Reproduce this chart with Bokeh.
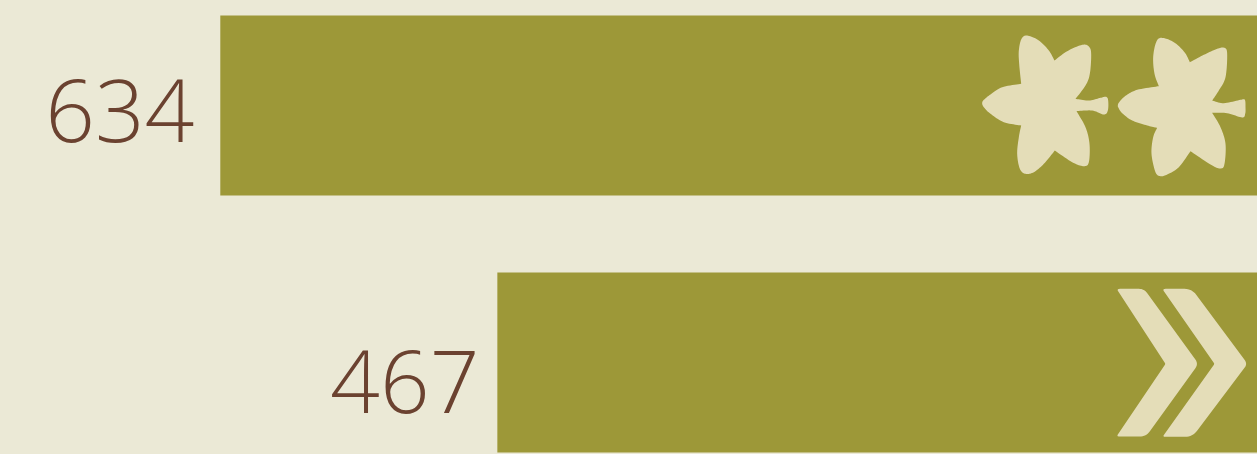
from bokeh.plotting import figure
from bokeh.models import Range1d, ColumnDataSource
from bokeh.core.properties import value
from bokeh.embed import file_html
from bokeh.resources import INLINE

# ---- data
row_index = [0, 1]
values = [634, 467]
labels = ["634", "467"]

BG = "#ebe9d6"
BAR = "#9d9838"
ICON = "#e4ddb8"
TEXT = "#6b4230"

# ---- scale: pixels per unit, value-zero pixel, row pitch (page pixels)
K = 1.659
X_ZERO = 1271.6
PITCH = 257.0
Y_ROW0 = 105.0
W, H = 1257, 454


def xv(px):
    return (X_ZERO - px) / K


def yv(py):
    return (py - Y_ROW0) / PITCH


# Icon outlines: segments between sharp corners, in 3x crop pixels.
FLOWER_A = [
    [(182, 190), (176, 130), (175, 90), (183, 55), (200, 45), (235, 60), (265, 90), (282, 120)],
    [(282, 120), (320, 92), (365, 73), (385, 78), (392, 100), (388, 160), (375, 195), (345, 235)],
    [(345, 235), (385, 240), (420, 232), (437, 229), (443, 240), (442, 270), (430, 282), (395, 270), (348, 272)],
    [(348, 272), (375, 320), (387, 370), (385, 425), (370, 437), (335, 425), (283, 390)],
    [(283, 390), (250, 430), (220, 455), (195, 460), (178, 445), (170, 400), (175, 350), (182, 315)],
    [(182, 315), (130, 305), (90, 280), (70, 260), (65, 248), (70, 238), (90, 222), (125, 200), (182, 190)],
]
FLOWER_B = [
    [(595, 197), (582, 160), (578, 110), (587, 65), (603, 52), (640, 65), (672, 95), (688, 125)],
    [(688, 125), (730, 103), (770, 85), (792, 82), (800, 100), (795, 170), (775, 210), (755, 240)],
    [(755, 240), (790, 248), (840, 238), (853, 238), (855, 260), (854, 280), (845, 291), (800, 278), (755, 277)],
    [(755, 277), (780, 320), (795, 370), (792, 430), (780, 444), (750, 432), (690, 392)],
    [(690, 392), (655, 440), (620, 462), (600, 467), (585, 455), (573, 400), (578, 350), (590, 322)],
    [(590, 322), (560, 315), (515, 300), (485, 278), (474, 262), (472, 255), (476, 245), (495, 226), (530, 208), (595, 197)],
]
# Chevrons: polygon corners with a rounding radius, in 3x crop pixels.
CHEVRON_A = [(48, 40, 10), (131, 40, 16), (294, 265, 16), (137, 483, 20), (48, 483, 8), (195, 265, 4)]
CHEVRON_B = [(185, 40, 10), (274, 40, 22), (441, 265, 14), (276, 484, 22), (186, 484, 8), (342, 265, 4)]


def smooth(seg, n=10):
    """Catmull-Rom through one open segment."""
    pts = [seg[0]] + list(seg) + [seg[-1]]
    out = []
    for i in range(1, len(pts) - 2):
        p0, p1, p2, p3 = pts[i - 1], pts[i], pts[i + 1], pts[i + 2]
        for j in range(n):
            t = j / n
            out.append(tuple(
                0.5 * (2 * p1[c] + (p2[c] - p0[c]) * t
                       + (2 * p0[c] - 5 * p1[c] + 4 * p2[c] - p3[c]) * t ** 2
                       + (3 * p1[c] - p0[c] - 3 * p2[c] + p3[c]) * t ** 3)
                for c in (0, 1)))
    return out


def outline(segments, ox, oy):
    pts = []
    for s in segments:
        pts += smooth(s)
    return [(ox + x / 3, oy + y / 3) for x, y in pts]


def rounded(corners, ox, oy, n=8):
    pts = []
    m = len(corners)
    for i, (x, y, r) in enumerate(corners):
        ax, ay, _ = corners[i - 1]
        bx, by, _ = corners[(i + 1) % m]
        la = ((ax - x) ** 2 + (ay - y) ** 2) ** 0.5
        lb = ((bx - x) ** 2 + (by - y) ** 2) ** 0.5
        sx, sy = x + (ax - x) * r / la, y + (ay - y) * r / la
        ex, ey = x + (bx - x) * r / lb, y + (by - y) * r / lb
        for j in range(n + 1):
            t = j / n
            pts.append(((1 - t) ** 2 * sx + 2 * t * (1 - t) * x + t ** 2 * ex,
                        (1 - t) ** 2 * sy + 2 * t * (1 - t) * y + t ** 2 * ey))
    return [(ox + a / 3, oy + b / 3) for a, b in pts]


p = figure(
    width=W, height=H, output_backend="svg", toolbar_location=None,
    x_range=Range1d(xv(0), xv(W)), y_range=Range1d(yv(H), yv(0)),
    min_border=0, background_fill_color=BG, border_fill_color=BG, outline_line_color=None,
)
p.axis.visible = False
p.grid.visible = False

src = ColumnDataSource(dict(
    y=row_index, v=values, zero=[0] * len(values), label=labels,
    x_off=[-26, -18], y_off=[5, 19],
))
p.hbar(y="y", left="zero", right="v", height=180 / PITCH, source=src,
       fill_color=BAR, line_color=None)
p.text(x="v", y="y", text="label", source=src, x_offset="x_off", y_offset="y_off",
       text_align="right", text_baseline="middle", text_color=TEXT,
       text_font=value("Open Sans Light"), text_font_size="87px")

shapes = [outline(FLOWER_A, 960, 20), outline(FLOWER_B, 960, 20),
          rounded(CHEVRON_A, 1100, 275), rounded(CHEVRON_B, 1100, 275)]
p.patches(
    xs=[[xv(a) for a, _ in s] for s in shapes],
    ys=[[yv(b) for _, b in s] for s in shapes],
    fill_color=ICON, line_color=None,
)

html = file_html(p, INLINE)
html = html.replace("<head>", f"<head><style>html,body{{background:{BG}}}</style>", 1)
open("out.html", "w").write(html)
